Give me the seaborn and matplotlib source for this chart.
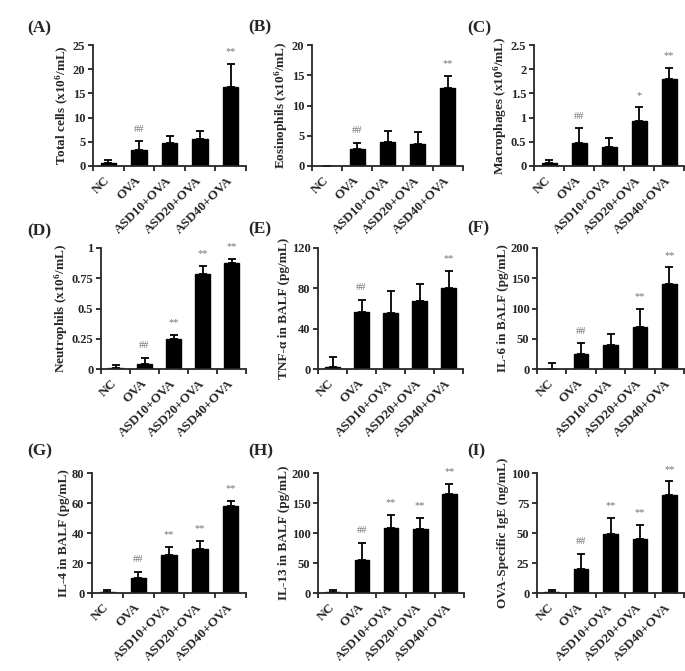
import numpy as np
import pandas as pd
import seaborn as sns
import matplotlib.pyplot as plt
from matplotlib.ticker import FixedLocator

groups = ["NC", "OVA", "ASD10+OVA", "ASD20+OVA", "ASD40+OVA"]

total_cells = [0.55, 3.3, 4.7, 5.5, 16.25]
total_cells_err = [0.65, 1.8, 1.5, 1.8, 4.8]
eosinophils = [0, 2.75, 4.0, 3.6, 12.9]
eosinophils_err = [0, 1.1, 1.8, 2.1, 2.0]
macrophages = [0.07, 0.48, 0.39, 0.92, 1.80]
macrophages_err = [0.05, 0.30, 0.18, 0.29, 0.22]
neutrophils = [0.01, 0.04, 0.245, 0.785, 0.873]
neutrophils_err = [0.025, 0.05, 0.04, 0.065, 0.035]
tnf = [2, 57, 56, 67, 80]
tnf_err = [10, 11.5, 21, 17, 17]
il6 = [0.5, 24, 40, 70, 141]
il6_err = [10, 18.5, 18.5, 29, 27]
il4 = [0.5, 10, 25.5, 29.3, 57.7]
il4_err = [1.5, 4, 5.3, 5.5, 3.5]
il13 = [1, 55, 109, 106, 165]
il13_err = [3.4, 29, 21.5, 19, 17]
ige = [0.5, 20.4, 49, 44.6, 81.8]
ige_err = [2.3, 12.4, 13.8, 11.9, 11.2]

marks_a = ["", "##", "", "", "**"]
marks_b = ["", "##", "", "", "**"]
marks_c = ["", "##", "", "*", "**"]
marks_d = ["", "##", "**", "**", "**"]
marks_e = ["", "##", "", "", "**"]
marks_f = ["", "##", "", "**", "**"]
marks_ghi = ["", "##", "**", "**", "**"]

panels = [
    ("(A)", "Total cells (x10$^6$/mL)", total_cells, total_cells_err, marks_a, [0, 5, 10, 15, 20, 25], ["0", "5", "10", "15", "20", "25"]),
    ("(B)", "Eosinophils (x10$^6$/mL)", eosinophils, eosinophils_err, marks_b, [0, 5, 10, 15, 20], ["0", "5", "10", "15", "20"]),
    ("(C)", "Macrophages (x10$^6$/mL)", macrophages, macrophages_err, marks_c, [0, 0.5, 1, 1.5, 2, 2.5], ["0", "0.5", "1", "1.5", "2", "2.5"]),
    ("(D)", "Neutrophils (x10$^6$/mL)", neutrophils, neutrophils_err, marks_d, [0, 0.25, 0.5, 0.75, 1], ["0", "0.25", "0.5", "0.75", "1"]),
    ("(E)", "TNF-α in BALF (pg/mL)", tnf, tnf_err, marks_e, [0, 40, 80, 120], ["0", "40", "80", "120"]),
    ("(F)", "IL-6 in BALF (pg/mL)", il6, il6_err, marks_f, [0, 50, 100, 150, 200], ["0", "50", "100", "150", "200"]),
    ("(G)", "IL-4 in BALF (pg/mL)", il4, il4_err, marks_ghi, [0, 20, 40, 60, 80], ["0", "20", "40", "60", "80"]),
    ("(H)", "IL-13 in BALF (pg/mL)", il13, il13_err, marks_ghi, [0, 50, 100, 150, 200], ["0", "50", "100", "150", "200"]),
    ("(I)", "OVA-Specific IgE (ng/mL)", ige, ige_err, marks_ghi, [0, 25, 50, 75, 100], ["0", "25", "50", "75", "100"]),
]

sns.set_style("ticks")
plt.rcParams["font.family"] = ["Liberation Serif", "DejaVu Serif"]
plt.rcParams["font.weight"] = "bold"
plt.rcParams["axes.labelweight"] = "bold"
plt.rcParams["mathtext.default"] = "regular"

W, H = 685, 671
fig = plt.figure(figsize=(W / 100, H / 100), dpi=100)

# axes boxes in pixels: left, top, right, bottom
boxes = [
    (93, 45, 246, 166), (312, 45, 463, 166), (534, 45, 684, 166),
    (101, 248, 246, 369), (318, 248, 463, 369), (537, 248, 684, 369),
    (92, 473, 246, 593), (318, 473, 464, 593), (537, 473, 684, 593),
]
label_pos = [
    (27, 28), (248, 27), (467, 28),
    (27, 231), (248, 229), (467, 228),
    (27, 451), (248, 451), (467, 451),
]

for (tag, ylab, vals, errs, marks, yt, ytl), (l, t, r, b), (lx, ly) in zip(panels, boxes, label_pos):
    ax = fig.add_axes([l / W, 1 - b / H, (r - l) / W, (b - t) / H])
    df = pd.DataFrame({"group": groups, "value": vals})
    sns.barplot(data=df, x="group", y="value", color="black", width=0.5,
                errorbar=None, ax=ax, saturation=1, edgecolor="black")
    xs = np.arange(len(groups))
    ax.errorbar(xs, vals, yerr=[np.zeros(len(errs)), errs], fmt="none",
                ecolor="black", elinewidth=1.3, capsize=2.6, capthick=1.3)
    for x, v, e, m in zip(xs, vals, errs, marks):
        if m:
            ax.annotate(m, (x, v + e), xytext=(0, 5.5), textcoords="offset points",
                        ha="center", va="bottom", fontsize=7.5, color="0.45",
                        fontweight="normal")
    ax.set_xlim(-0.5, len(groups) - 0.5)
    ax.set_ylim(yt[0], yt[-1])
    ax.set_yticks(yt)
    ax.set_yticklabels(ytl, fontsize=9, fontweight="bold")
    ax.set_xticks(xs)
    ax.set_xticklabels(groups, rotation=45, ha="right", va="center",
                       rotation_mode="anchor", fontsize=9.5, fontweight="bold")
    ax.xaxis.set_minor_locator(FixedLocator(np.arange(-0.5, len(groups), 1.0)))
    ax.tick_params(axis="x", which="major", length=0, pad=9)
    ax.tick_params(axis="x", which="minor", length=3.5, width=1.3, direction="out")
    ax.tick_params(axis="y", length=3.5, width=1.3, direction="out", pad=2)
    ax.set_xlabel("")
    ax.set_ylabel(ylab, fontsize=9.5, fontweight="bold", labelpad=1.5)
    for s in ["left", "bottom"]:
        ax.spines[s].set_linewidth(1.3)
    sns.despine(ax=ax)
    fig.text(lx / W, 1 - ly / H, tag, ha="left", va="center", fontsize=12.5, fontweight="bold")

plt.savefig("out.png", dpi=100)
